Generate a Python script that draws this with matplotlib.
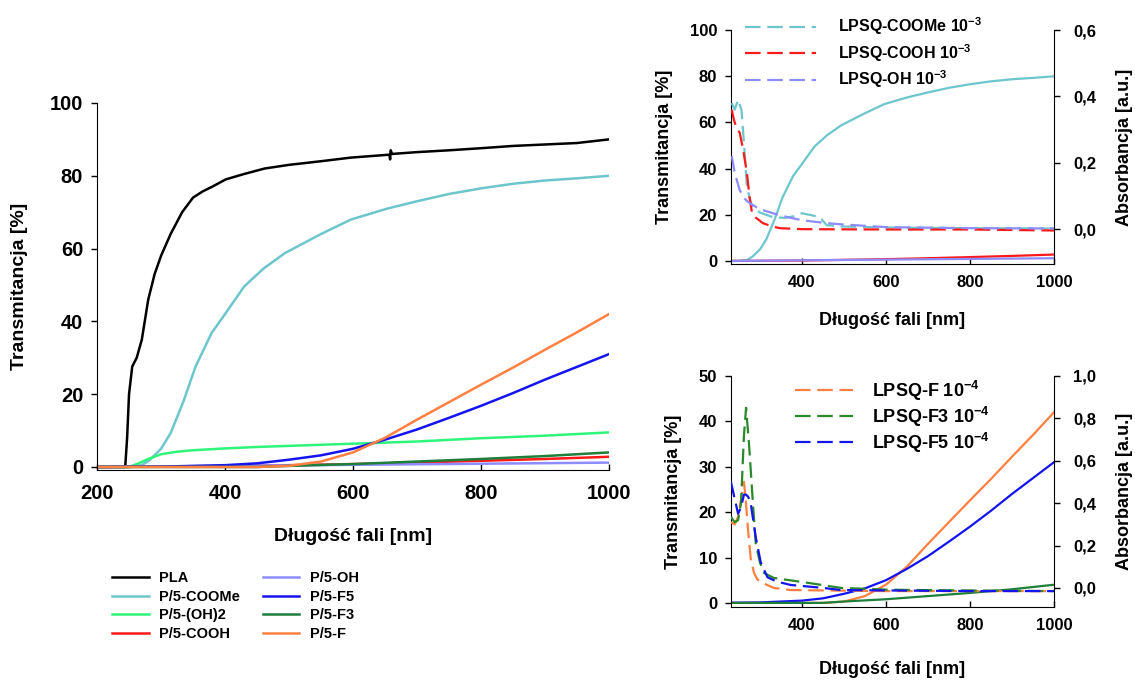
import matplotlib.pyplot as plt
from matplotlib.ticker import FuncFormatter

plt.rcParams['font.family'] = ['Liberation Sans', 'DejaVu Sans']
plt.rcParams['font.weight'] = 'bold'
plt.rcParams['axes.labelweight'] = 'bold'
plt.rcParams['mathtext.default'] = 'regular'

# transmittance of the films [%] vs wavelength [nm]
wl_pla = [200, 244, 247, 250, 255, 262, 270, 280, 290, 300, 315, 333, 350, 365, 380, 401, 430,
          462, 500, 550, 597, 657, 658, 659, 661, 700, 750, 802, 850, 900, 950, 1000]
t_pla = [0, 0, 8, 20, 27.6, 30, 35, 46, 53, 58, 64, 70, 74, 75.7, 77, 79, 80.5,
         82, 83, 84, 85, 85.8, 84.5, 87, 86, 86.5, 87, 87.6, 88.2, 88.6, 89, 90]

wl_coome = [200, 250, 270, 283, 300, 315, 335, 354, 379, 400, 430, 460, 494, 550, 597, 654,
            700, 750, 802, 850, 900, 950, 1000]
t_coome = [0, 0, 0.5, 2, 5, 9.3, 18, 27.6, 36.8, 42, 49.6, 54.5, 58.8, 64, 68, 71,
           73, 75, 76.6, 77.8, 78.7, 79.3, 80]

wl_oh2 = [200, 250, 265, 280, 300, 325, 350, 400, 450, 500, 600, 700, 800, 900, 1000]
t_oh2 = [0, 0, 1, 2.2, 3.5, 4.2, 4.6, 5.1, 5.5, 5.8, 6.4, 7.0, 7.9, 8.6, 9.5]

wl_cooh = [200, 400, 500, 600, 700, 800, 900, 1000]
t_cooh = [0, 0.2, 0.5, 0.8, 1.2, 1.7, 2.2, 2.8]

wl_oh = [200, 400, 600, 800, 1000]
t_oh = [0, 0.3, 0.6, 0.9, 1.2]

wl_f5 = [200, 300, 400, 450, 500, 550, 600, 650, 700, 750, 800, 850, 900, 950, 1000]
t_f5 = [0, 0.1, 0.5, 1, 2, 3.2, 5, 7.5, 10.3, 13.5, 16.8, 20.3, 24, 27.5, 31]

wl_f3 = [200, 450, 500, 600, 700, 800, 900, 1000]
t_f3 = [0, 0, 0.3, 0.8, 1.5, 2.2, 3.0, 4.0]

wl_f = [200, 450, 500, 550, 600, 650, 700, 750, 800, 850, 900, 950, 1000]
t_f = [0, 0, 0.3, 1.5, 4, 8, 13, 17.8, 22.6, 27.3, 32.2, 37, 42]

# absorbance of LPSQ solutions [a.u.]
wl_a_coome = [233, 240, 248, 256, 262, 269, 276, 283, 300, 331, 360, 385, 400, 415, 430, 443,
              450, 459, 500, 600, 800, 1000]
a_coome = [0.38, 0.36, 0.39, 0.36, 0.26, 0.13, 0.09, 0.066, 0.05, 0.036, 0.034, 0.04, 0.048,
           0.044, 0.04, 0.036, 0.025, 0.012, 0.008, 0.005, 0.003, 0.002]

wl_a_cooh = [233, 238, 243, 252, 260, 269, 275, 281, 290, 307, 330, 347, 400, 600, 800, 1000]
a_cooh = [0.36, 0.33, 0.31, 0.29, 0.24, 0.17, 0.1, 0.05, 0.035, 0.018, 0.008, 0.003, 0.0,
          -0.001, -0.001, -0.004]

wl_a_oh = [233, 240, 252, 265, 276, 300, 331, 370, 400, 459, 500, 602, 800, 1000]
a_oh = [0.22, 0.17, 0.117, 0.09, 0.078, 0.06, 0.048, 0.035, 0.027, 0.018, 0.014, 0.006,
        0.003, 0.002]

wl_a_f = [231, 240, 248, 255, 262, 266, 271, 278, 286, 294, 310, 333, 373, 450, 600, 800, 1000]
a_f = [0.31, 0.30, 0.335, 0.42, 0.50, 0.42, 0.29, 0.14, 0.07, 0.04, 0.02, 0.0, -0.01,
       -0.012, -0.015, -0.015, -0.015]

wl_a_f3 = [231, 240, 248, 255, 262, 267, 274, 283, 290, 300, 310, 333, 414, 493, 600, 660,
           800, 1000]
a_f3 = [0.335, 0.31, 0.32, 0.40, 0.72, 0.85, 0.68, 0.41, 0.21, 0.12, 0.07, 0.047, 0.024,
        0.0, -0.008, -0.01, -0.012, -0.015]

wl_a_f5 = [231, 240, 248, 255, 262, 267, 272, 278, 284, 290, 302, 318, 340, 373, 450, 493,
           600, 800, 1000]
a_f5 = [0.50, 0.42, 0.35, 0.38, 0.44, 0.44, 0.43, 0.40, 0.32, 0.24, 0.12, 0.05, 0.03, 0.014,
        0.0, -0.01, -0.012, -0.015, -0.015]

c_pla = 'black'
c_coome = '#6cc6cc'
c_oh2 = '#2ef57a'
c_cooh = '#ff1a1a'
c_oh = '#8c8cff'
c_f5 = '#1414f0'
c_f3 = '#1e7f3a'
c_f = '#ff8040'
dash = (0, (7, 3))

comma = FuncFormatter(lambda v, p: f'{v:.1f}'.replace('.', ','))


def style(ax, right=None, size=12, xpad=8):
    ax.spines['top'].set_visible(False)
    ax.spines['right'].set_visible(False)
    ax.tick_params(axis='y', direction='out', length=4, width=1, pad=6, labelsize=size)
    ax.tick_params(axis='x', direction='in', length=4, width=1, pad=xpad, labelsize=size)
    if right is not None:
        right.spines['top'].set_visible(False)
        right.spines['left'].set_visible(False)
        right.spines['bottom'].set_visible(False)
        right.tick_params(axis='y', direction='out', length=4, width=1, pad=10, labelsize=size)


fig = plt.figure(figsize=(11.35, 6.82), dpi=100)

# ---- left panel: all films
ax = fig.add_axes([0.0855, 0.311, 0.451, 0.538])
lw = 1.8
ax.plot(wl_pla, t_pla, color=c_pla, lw=lw, label='PLA')
ax.plot(wl_coome, t_coome, color=c_coome, lw=lw, label='P/5-COOMe')
ax.plot(wl_oh2, t_oh2, color=c_oh2, lw=lw, label='P/5-(OH)2')
ax.plot(wl_cooh, t_cooh, color=c_cooh, lw=lw, label='P/5-COOH')
ax.plot(wl_oh, t_oh, color=c_oh, lw=lw, label='P/5-OH')
ax.plot(wl_f5, t_f5, color=c_f5, lw=lw, label='P/5-F5')
ax.plot(wl_f3, t_f3, color=c_f3, lw=lw, label='P/5-F3')
ax.plot(wl_f, t_f, color=c_f, lw=lw, label='P/5-F')
ax.set_xlim(200, 1000)
ax.set_ylim(-0.8, 100)
ax.set_xticks([200, 400, 600, 800, 1000])
ax.set_yticks([0, 20, 40, 60, 80, 100])
style(ax, size=14.5, xpad=10)
ax.set_xlabel('Długość fali [nm]', fontsize=14, labelpad=18)
ax.set_ylabel('Transmitancja [%]', fontsize=14, labelpad=16)
ax.legend(ncol=2, loc='upper left', bbox_to_anchor=(0.018, -0.26), borderaxespad=0,
          frameon=False, fontsize=10.5, handlelength=2.5, columnspacing=1.6,
          labelspacing=0.32, handletextpad=0.7)

# ---- top right: COOMe / COOH / OH
ax1 = fig.add_axes([0.644, 0.6129, 0.2846, 0.343])
ax1.plot(wl_coome, t_coome, color=c_coome, lw=1.6)
ax1.plot(wl_cooh, t_cooh, color=c_cooh, lw=1.6)
ax1.plot(wl_oh, t_oh, color=c_oh, lw=1.6)
ax1.set_xlim(231, 1000)
ax1.set_ylim(-1.3, 100)
ax1.set_xticks([400, 600, 800, 1000])
ax1.set_yticks([0, 20, 40, 60, 80, 100])
r1 = ax1.twinx()
r1.plot(wl_a_coome, a_coome, color=c_coome, lw=1.6, ls=dash, label='LPSQ-COOMe 10$^{-3}$')
r1.plot(wl_a_cooh, a_cooh, color=c_cooh, lw=1.6, ls=dash, label='LPSQ-COOH 10$^{-3}$')
r1.plot(wl_a_oh, a_oh, color=c_oh, lw=1.6, ls=dash, label='LPSQ-OH 10$^{-3}$')
r1.set_ylim(-0.105, 0.6)
r1.set_yticks([0.0, 0.2, 0.4, 0.6])
r1.yaxis.set_major_formatter(comma)
style(ax1, r1)
ax1.set_xlabel('Długość fali [nm]', fontsize=13, labelpad=16)
ax1.set_ylabel('Transmitancja [%]', fontsize=13, labelpad=12)
r1.set_ylabel('Absorbancja [a.u.]', fontsize=13, rotation=90, labelpad=14)
r1.legend(loc='upper left', bbox_to_anchor=(0.025, 1.09), borderaxespad=0, frameon=False,
          fontsize=11.5, handlelength=4.4, handletextpad=1.4, labelspacing=0.3)

# ---- bottom right: fluorinated
ax2 = fig.add_axes([0.644, 0.110, 0.2846, 0.3387])
ax2.plot(wl_f, t_f, color=c_f, lw=1.6)
ax2.plot(wl_f5, t_f5, color=c_f5, lw=1.6)
ax2.plot(wl_f3, t_f3, color=c_f3, lw=1.6)
ax2.set_xlim(231, 1000)
ax2.set_ylim(-0.9, 50)
ax2.set_xticks([400, 600, 800, 1000])
ax2.set_yticks([0, 10, 20, 30, 40, 50])
r2 = ax2.twinx()
r2.plot(wl_a_f, a_f, color=c_f, lw=1.6, ls=dash, label='LPSQ-F 10$^{-4}$')
r2.plot(wl_a_f3, a_f3, color='#2a8a2a', lw=1.6, ls=dash, label='LPSQ-F3 10$^{-4}$')
r2.plot(wl_a_f5, a_f5, color=c_f5, lw=1.6, ls=dash, label='LPSQ-F5 10$^{-4}$')
r2.set_ylim(-0.09, 1.0)
r2.set_yticks([0.0, 0.2, 0.4, 0.6, 0.8, 1.0])
r2.yaxis.set_major_formatter(comma)
style(ax2, r2)
ax2.set_xlabel('Długość fali [nm]', fontsize=13, labelpad=20)
ax2.set_ylabel('Transmitancja [%]', fontsize=13, labelpad=12)
r2.set_ylabel('Absorbancja [a.u.]', fontsize=13, rotation=90, labelpad=14)
r2.legend(loc='upper left', bbox_to_anchor=(0.176, 1.02), borderaxespad=0, frameon=False,
          fontsize=13, handlelength=3.2, handletextpad=1.05, labelspacing=0.1)

fig.savefig('out.png', dpi=100)
